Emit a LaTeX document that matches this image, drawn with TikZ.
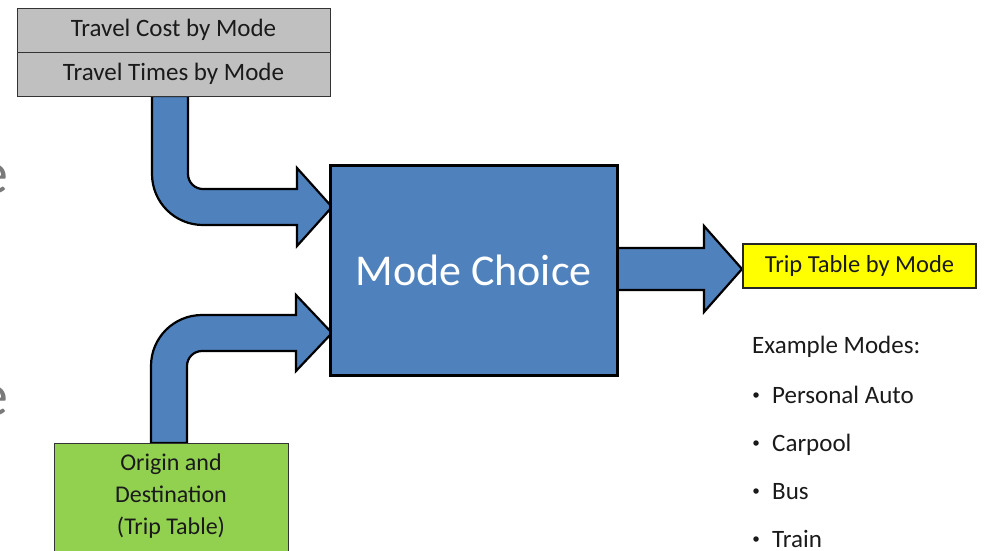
\documentclass[tikz,border=0pt]{standalone}
\usepackage{fontspec}
\setmainfont{Carlito}
\definecolor{boxgray}{HTML}{C0C0C0}
\definecolor{flowblue}{HTML}{4F81BD}
\definecolor{outyellow}{HTML}{FFFF00}
\definecolor{odgreen}{HTML}{92D050}
\definecolor{textdark}{HTML}{1A1A1A}
\definecolor{ghostgray}{HTML}{7A7A7A}
\begin{document}
\begin{tikzpicture}[x=1pt,y=-1pt,
  inbox/.style={draw=black!80, line width=1pt, fill=boxgray, minimum width=313pt,
    minimum height=44pt, inner sep=0pt, text=textdark, font=\fontsize{25}{29}\selectfont},
  blockarrow/.style={fill=flowblue, draw=black, line width=2.2pt, line join=miter},
  listtext/.style={anchor=base west, inner sep=0pt, text=textdark, font=\fontsize{25}{29}\selectfont},
  bulletdot/.style={circle, fill=textdark, inner sep=0pt, minimum size=5.5pt}]
\useasboundingbox (0,0) rectangle (984,550);
\clip (0,0) rectangle (984,550);

% partly hidden letters at the left edge
\node[anchor=base east, inner sep=0pt, text=ghostgray, font=\fontsize{60}{60}\selectfont] (ghostA) at (9,193) {e};
\node[anchor=base east, inner sep=0pt, text=ghostgray, font=\fontsize{60}{60}\selectfont] (ghostB) at (9,415) {e};

% bent arrow: travel data into the mode choice step
\draw[blockarrow] (152,96) -- (152,174)
  .. controls (152,202.2) and (174.8,225) .. (203,225)
  -- (297,225) -- (297,246) -- (332,207) -- (297,168) -- (297,189) -- (203,189)
  .. controls (194.7,189) and (188,182.3) .. (188,174) -- (188,96) -- cycle;

% bent arrow: origin-destination table into the mode choice step
\draw[blockarrow] (151,443) -- (151,366)
  .. controls (151,337.8) and (173.8,315) .. (202,315)
  -- (296,315) -- (296,295) -- (332,333) -- (296,371) -- (296,351) -- (202,351)
  .. controls (193.7,351) and (187,357.7) .. (187,366) -- (187,443) -- cycle;

% straight arrow: mode choice to the output table
\draw[blockarrow] (617,248) -- (704,248) -- (704,226) -- (742,269) -- (704,312)
  -- (704,290) -- (617,290) -- cycle;

% input boxes
\node[inbox] (cost) at (173.5,30) {Travel Cost by Mode};
\node[inbox] (times) at (173.5,74) {Travel Times by Mode};

% central process
\node[draw=black, line width=3pt, fill=flowblue, minimum width=287pt, minimum height=210pt,
  inner sep=0pt, text=white, font=\fontsize{44}{48}\selectfont] (mode) at (473.5,270) {Mode Choice};

% output table
\node[draw=black!85, line width=1.3pt, fill=outyellow, minimum width=233pt, minimum height=44pt,
  inner sep=0pt, text=textdark, font=\fontsize{24.5}{28}\selectfont] (trip) at (859.5,266) {Trip Table by Mode};

% origin-destination input
\node[draw=black!80, line width=1pt, fill=odgreen, minimum width=234pt, minimum height=130pt,
  anchor=north, inner sep=0pt] (od) at (171,443) {};
\node[align=center, inner sep=0pt, text=textdark, font=\fontsize{24}{32}\selectfont] (odtext) at (171,496)
  {Origin and\\Destination\\(Trip Table)};

% list of example modes
\node[listtext] (exhead) at (752,353) {Example Modes:};
\node[listtext] (m1) at (772,403) {Personal Auto};
\node[listtext] (m2) at (772,451) {Carpool};
\node[listtext] (m3) at (772,499) {Bus};
\node[listtext] (m4) at (772,547) {Train};
\node[bulletdot] (b1) at (756,395) {};
\node[bulletdot] (b2) at (756,443) {};
\node[bulletdot] (b3) at (756,491) {};
\node[bulletdot] (b4) at (756,539) {};
\end{tikzpicture}
\end{document}
